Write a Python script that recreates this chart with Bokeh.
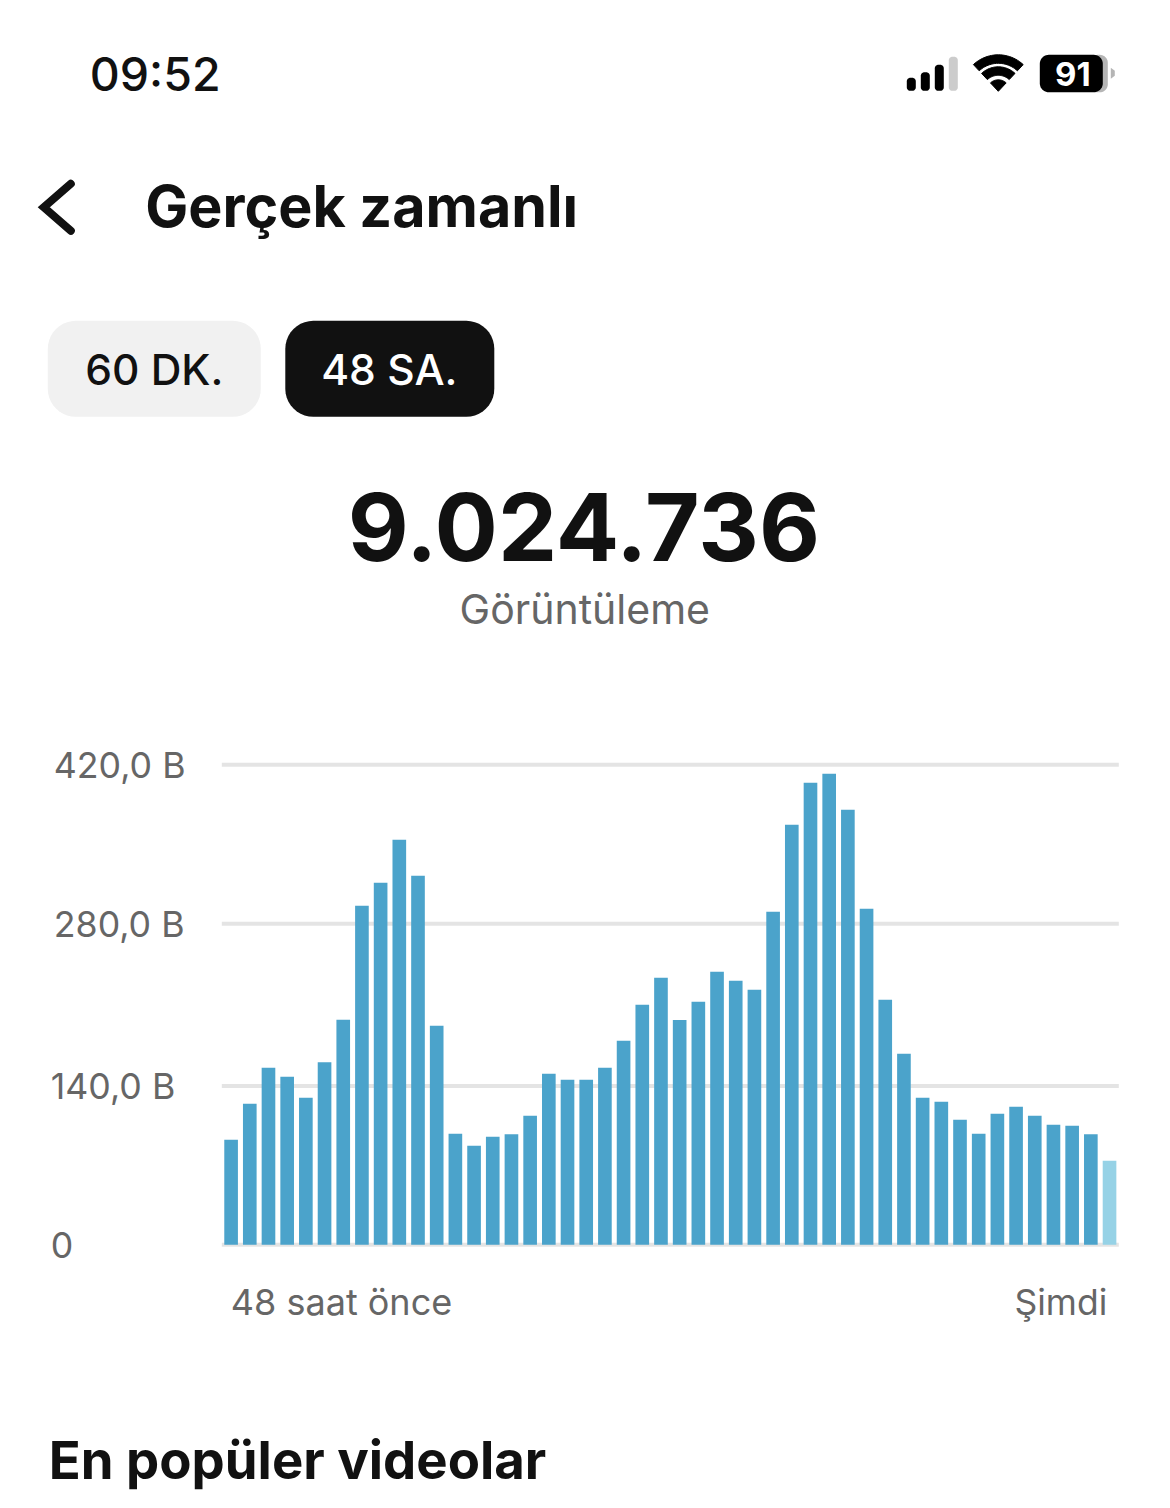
import math
from bokeh.plotting import figure
from bokeh.models import Range1d
from bokeh.core.properties import value
from bokeh.embed import file_html
from bokeh.resources import INLINE

views_thousand = [91.9, 123.4, 154.9, 147.0, 128.6, 159.8, 196.9, 296.6, 316.8, 354.4, 322.9, 191.6,
                  97.1, 86.6, 94.5, 96.8, 112.9, 149.6, 144.4, 144.4, 154.9, 178.5, 210.0, 233.6,
                  196.6, 212.6, 238.9, 231.0, 223.1, 291.4, 367.5, 404.3, 412.1, 380.6, 294.0, 214.4,
                  167.1, 128.6, 125.1, 109.4, 97.1, 114.6, 120.8, 112.9, 105.0, 104.1, 96.8, 73.5]
bar_index = list(range(len(views_thousand)))
tick_values = [0, 139, 281, 420]
tick_labels = ["0", "140,0 B", "280,0 B", "420,0 B"]
tick_label_left = [51, 51, 54, 54]
x_labels = ["48 saat önce", "Şimdi"]
total_views = "9.024.736"
metric_name = "Görüntüleme"

BAR = "#4ba3cb"
BAR_LIGHT = "#96d2e6"
GRID = "#e4e4e4"
INK = "#111111"
GREY = "#666666"

W, H = 1170, 1508
SHIFT = 0.7
PITCH = 18.69
X0 = 231.3
Y_ZERO = 1245.0
PX_PER_UNIT = 480 / 420

p = figure(width=W, height=H, output_backend="svg", toolbar_location=None,
           x_axis_location=None, y_axis_location=None, min_border=0,
           x_range=Range1d((SHIFT - X0) / PITCH, (W + SHIFT - X0) / PITCH),
           y_range=Range1d((Y_ZERO - H - SHIFT) / PX_PER_UNIT, (Y_ZERO - SHIFT) / PX_PER_UNIT))
p.outline_line_color = None
p.grid.visible = False
p.background_fill_color = "white"
p.border_fill_color = "white"
p.extra_x_ranges = {"px": Range1d(SHIFT, W + SHIFT)}
p.extra_y_ranges = {"py": Range1d(H + SHIFT, SHIFT)}
PX = dict(x_range_name="px", y_range_name="py")


def rrect(x0, y0, x1, y1, r):
    xs, ys = [], []
    for cx, cy, a0 in [(x1 - r, y0 + r, -90), (x1 - r, y1 - r, 0), (x0 + r, y1 - r, 90), (x0 + r, y0 + r, 180)]:
        for k in range(11):
            a = math.radians(a0 + 9 * k)
            xs.append(cx + r * math.cos(a))
            ys.append(cy + r * math.sin(a))
    return xs, ys


def shape(x0, y0, x1, y1, r, color):
    xs, ys = rrect(x0, y0, x1, y1, r)
    p.patch(xs, ys, fill_color=color, line_color=None, **PX)


def label(x, y, s, size, color=INK, style="normal", font="Inter", align="left"):
    p.text([x], [y], text=[s], text_font=value(font), text_font_size=f"{size}px", text_color=color,
           text_font_style=style, text_align=align, text_baseline="middle", **PX)


# status bar
label(90, 74, "09:52", 46.5, font="Inter Medium")
for (x0, y0, x1, c) in [(907, 78, 916, "#000000"), (921, 72.5, 930, "#000000"), (935, 65, 944, "#000000"), (949, 57, 958, "#cccccc")]:
    shape(x0, y0, x1, 91, 3.5, c)


def sector(cx, cy, r0, r1, half):
    angs = [math.radians(-90 - half + 2 * half * k / 24) for k in range(25)]
    xs = [cx + r1 * math.cos(a) for a in angs] + [cx + r0 * math.cos(a) for a in reversed(angs)]
    ys = [cy + r1 * math.sin(a) for a in angs] + [cy + r0 * math.sin(a) for a in reversed(angs)]
    return xs, ys


for r0, r1 in [(28, 36.5), (16, 24.5), (0, 11.5)]:
    xs, ys = sector(998.5, 91.5, r0, r1, 43)
    p.patch(xs, ys, fill_color="#000000", line_color="#000000", line_width=1, line_join="round", **PX)

shape(1090, 55, 1108, 92.5, 8, "#b5b5b5")
shape(1040, 55, 1103, 92.5, 9, "#000000")
p.patch([1111, 1115, 1115, 1111], [68, 71, 76, 79], fill_color="#b5b5b5", line_color=None, **PX)
label(1073, 74, "91", 33, color="white", style="bold", align="center")

# header
p.line([71, 44, 71], [184, 207.5, 231], line_color=INK, line_width=8, line_cap="round", line_join="miter", **PX)
label(145.5, 206, "Gerçek zamanlı", 57.4, style="bold")
shape(48, 321, 261, 417, 28, "#f1f1f1")
shape(285.5, 321, 494.5, 417, 28, INK)
label(154.5, 369.5, "60 DK.", 42.5, font="Inter Medium", align="center")
label(389.5, 369.5, "48 SA.", 42.5, color="white", font="Inter Medium", align="center")

# headline number
label(584, 527, total_views, 94, style="bold", align="center")
label(585, 609.5, metric_name, 41, color=GREY, align="center")

# chart
GRID_X0 = (222 - X0) / PITCH
GRID_X1 = (1119 - X0) / PITCH
p.segment(x0=[GRID_X0] * 4, x1=[GRID_X1] * 4, y0=tick_values, y1=tick_values, line_color=GRID, line_width=4)
p.vbar(x=bar_index[:-1], top=views_thousand[:-1], width=0.73, bottom=0, fill_color=BAR, line_color=None)
p.vbar(x=bar_index[-1:], top=views_thousand[-1:], width=0.73, bottom=0, fill_color=BAR_LIGHT, line_color=None)
p.text(x=tick_label_left, y=tick_values, text=tick_labels, x_range_name="px", text_font=value("Inter"),
       text_font_size="35.7px", text_color=GREY, text_align="left", text_baseline="middle")
label(231, 1302.5, x_labels[0], 36, color=GREY)
label(1107.5, 1302.5, x_labels[1], 35.5, color=GREY, align="right")

label(49, 1460, "En popüler videolar", 52.7, style="bold")

open("out.html", "w").write(file_html(p, INLINE))
